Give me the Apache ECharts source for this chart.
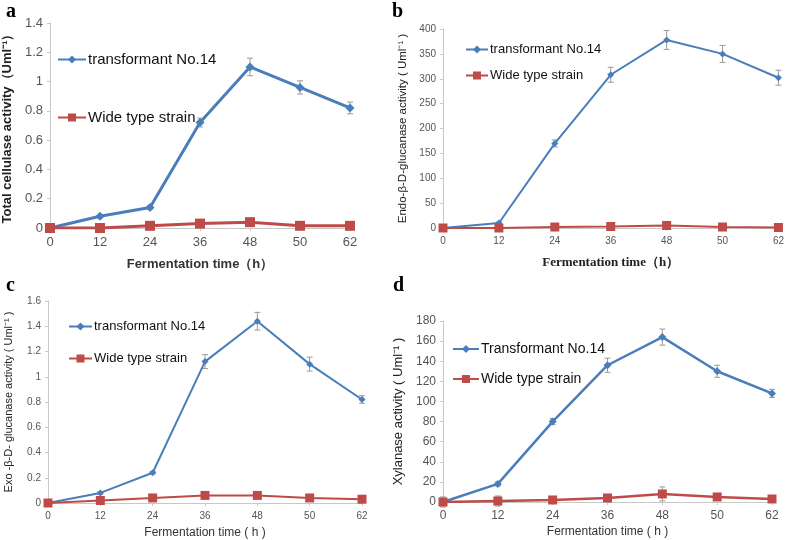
<!DOCTYPE html>
<html>
<head>
<meta charset="utf-8">
<script src="https://cdn.jsdelivr.net/npm/echarts@6/dist/echarts.min.js"></script>
<style>
  html, body { margin: 0; padding: 0; background: #fff; }
  #chart { width: 787px; height: 540px; }
</style>
</head>
<body>
<div id="chart"></div>
<script>
// fermentation time categories
var hours = ["0", "12", "24", "36", "48", "50", "62"];

// a: total cellulase
var totalTrans = [0, 0.08, 0.14, 0.72, 1.10, 0.96, 0.82];
var totalTransErr = [0.01, 0.01, 0.01, 0.03, 0.06, 0.045, 0.04];
var totalWild = [0, 0, 0.015, 0.03, 0.04, 0.015, 0.015];
var totalWildErr = [0.005, 0.005, 0.005, 0.01, 0.01, 0.005, 0.005];

// b: endo-beta-D-glucanase
var endoTrans = [0, 10, 170, 308, 378, 350, 302];
var endoTransErr = [1, 2, 7, 15, 19, 17, 15];
var endoWild = [0, 0, 2, 3, 5, 2, 1];
var endoWildErr = [1, 1, 1, 1, 2, 1, 1];

// c: exo-beta-D-glucanase
var exoTrans = [0, 0.08, 0.24, 1.12, 1.44, 1.10, 0.82];
var exoTransErr = [0.005, 0.01, 0.01, 0.055, 0.07, 0.055, 0.03];
var exoWild = [0, 0.02, 0.04, 0.06, 0.06, 0.04, 0.03];
var exoWildErr = [0.01, 0.005, 0.01, 0.02, 0.02, 0.01, 0.005];

// d: xylanase
var xylTrans = [0, 18, 80, 136, 164, 130, 108];
var xylTransErr = [2, 2, 3, 7, 8, 6, 4];
var xylWild = [0, 1, 2, 4, 8, 5, 3];
var xylWildErr = [5, 5, 1, 2, 7, 2, 1];

var BLUE = "#4a7ebb";
var RED = "#be4b48";

function errData(vals, errs) {
  return vals.map(function (v, i) { return [i, v - errs[i], v + errs[i]]; });
}

function errSeries(idx, vals, errs) {
  return {
    type: "custom",
    xAxisIndex: idx,
    yAxisIndex: idx,
    z: 1,
    silent: true,
    data: errData(vals, errs),
    renderItem: function (params, api) {
      var lo = api.coord([api.value(0), api.value(1)]);
      var hi = api.coord([api.value(0), api.value(2)]);
      var st = { stroke: "#9a9a9a", lineWidth: 1 };
      return {
        type: "group",
        children: [
          { type: "line", shape: { x1: lo[0], y1: lo[1], x2: hi[0], y2: hi[1] }, style: st },
          { type: "line", shape: { x1: lo[0] - 3, y1: lo[1], x2: lo[0] + 3, y2: lo[1] }, style: st },
          { type: "line", shape: { x1: hi[0] - 3, y1: hi[1], x2: hi[0] + 3, y2: hi[1] }, style: st }
        ]
      };
    }
  };
}

function lineSeries(idx, name, vals, color, symbol, size, width) {
  return {
    name: name,
    type: "line",
    xAxisIndex: idx,
    yAxisIndex: idx,
    z: 3,
    data: vals,
    symbol: symbol,
    symbolSize: size,
    lineStyle: { color: color, width: width },
    itemStyle: { color: color },
    emphasis: { disabled: true }
  };
}

var grids = [
  { left: 48, top: 23, width: 302, height: 205 },
  { left: 443, top: 29, width: 338, height: 199 },
  { left: 48, top: 301, width: 314, height: 202 },
  { left: 443, top: 321, width: 329, height: 181 }
];

var yNames = [
  "Total cellulase activity（Uml⁻¹）",
  "Endo-β-D-glucanase activity ( Uml⁻¹ )",
  "Exo -β-D- glucanase activity ( Uml⁻¹ )",
  "Xylanase activity ( Uml⁻¹ )"
];
var yMax = [1.4, 400, 1.6, 180];
var yStep = [0.2, 50, 0.2, 20];
var yFont = [13, 10, 10, 12];
var yGap = [36, 34, 34, 38];
var yNameFont = [13, 11.5, 11, 13];

var xNames = [
  "Fermentation time（h）",
  "Fermentation time（h）",
  "Fermentation time ( h )",
  "Fermentation time ( h )"
];
var xGap = [30, 28, 24, 24];

var xAxes = grids.map(function (g, i) {
  return {
    type: "category",
    gridIndex: i,
    data: hours,
    boundaryGap: false,
    name: xNames[i],
    nameLocation: "middle",
    nameGap: xGap[i],
    nameTextStyle: i === 1
      ? { fontFamily: "Liberation Serif", fontWeight: "bold", fontSize: 13, color: "#222" }
      : { fontFamily: "Liberation Sans", fontWeight: i === 0 ? "bold" : "normal", fontSize: i === 0 ? 13 : 12, color: "#333" },
    axisLine: { lineStyle: { color: "#c8c8c8" } },
    axisTick: { show: true, length: 3, alignWithLabel: true, lineStyle: { color: "#c8c8c8" } },
    axisLabel: { color: "#555", fontSize: yFont[i], fontFamily: "Liberation Sans", margin: 8 },
    splitLine: { show: false }
  };
});

var yAxes = grids.map(function (g, i) {
  return {
    type: "value",
    gridIndex: i,
    min: 0,
    max: yMax[i],
    interval: yStep[i],
    name: yNames[i],
    nameLocation: "middle",
    nameGap: yGap[i],
    nameRotate: 90,
    nameTextStyle: { fontFamily: "Liberation Sans", fontWeight: i === 0 ? "bold" : "normal", fontSize: yNameFont[i], color: "#222" },
    axisLine: { show: true, lineStyle: { color: "#c8c8c8" } },
    axisTick: { show: true, length: 3, lineStyle: { color: "#c8c8c8" } },
    axisLabel: { color: "#555", fontSize: yFont[i], fontFamily: "Liberation Sans", margin: 7 },
    splitLine: { show: false }
  };
});

var transNames = ["transformant No.14", "transformant No.14 ", "transformant No.14  ", "Transformant No.14"];
var wildNames = ["Wide type strain", "Wide type strain ", "Wide type strain  ", "Wide type strain   "];

var panels = [
  { t: totalTrans, te: totalTransErr, w: totalWild, we: totalWildErr, dia: 9, sq: 10, lw: 3 },
  { t: endoTrans, te: endoTransErr, w: endoWild, we: endoWildErr, dia: 7, sq: 9, lw: 2 },
  { t: exoTrans, te: exoTransErr, w: exoWild, we: exoWildErr, dia: 7, sq: 9, lw: 2 },
  { t: xylTrans, te: xylTransErr, w: xylWild, we: xylWildErr, dia: 8, sq: 9, lw: 2.5 }
];

var series = [];
panels.forEach(function (p, i) {
  series.push(errSeries(i, p.t, p.te));
  series.push(errSeries(i, p.w, p.we));
  series.push(lineSeries(i, transNames[i], p.t, BLUE, "diamond", p.dia, p.lw));
  series.push(lineSeries(i, wildNames[i], p.w, RED, "rect", p.sq, p.lw));
});

var legendPos = [
  { left: 52, top: 47, gap: 43, w: 28, fs: 15 },
  { left: 460, top: 38, gap: 13, w: 22, fs: 13 },
  { left: 63, top: 315, gap: 19, w: 23, fs: 13 },
  { left: 447, top: 337, gap: 16, w: 26, fs: 14 }
];

var legends = legendPos.map(function (l, i) {
  return {
    orient: "vertical",
    left: l.left,
    top: l.top,
    itemGap: l.gap,
    itemWidth: l.w,
    itemHeight: 10,
    selectedMode: false,
    data: [transNames[i], wildNames[i]],
    textStyle: { fontFamily: "Liberation Sans", fontSize: l.fs, color: "#111", padding: [0, 0, 0, -3] }
  };
});

var labels = [
  { text: "a", left: 6, top: 2 },
  { text: "b", left: 392, top: 2 },
  { text: "c", left: 6, top: 276 },
  { text: "d", left: 393, top: 276 }
].map(function (t) {
  return {
    text: t.text,
    left: t.left,
    top: t.top,
    padding: 0,
    textStyle: { fontFamily: "Liberation Serif", fontWeight: "bold", fontSize: 20, color: "#000" }
  };
});

var myChart = echarts.init(document.getElementById("chart"));
myChart.setOption({
  animation: false,
  backgroundColor: "#fff",
  title: labels,
  grid: grids,
  xAxis: xAxes,
  yAxis: yAxes,
  legend: legends,
  series: series
});
</script>
</body>
</html>
